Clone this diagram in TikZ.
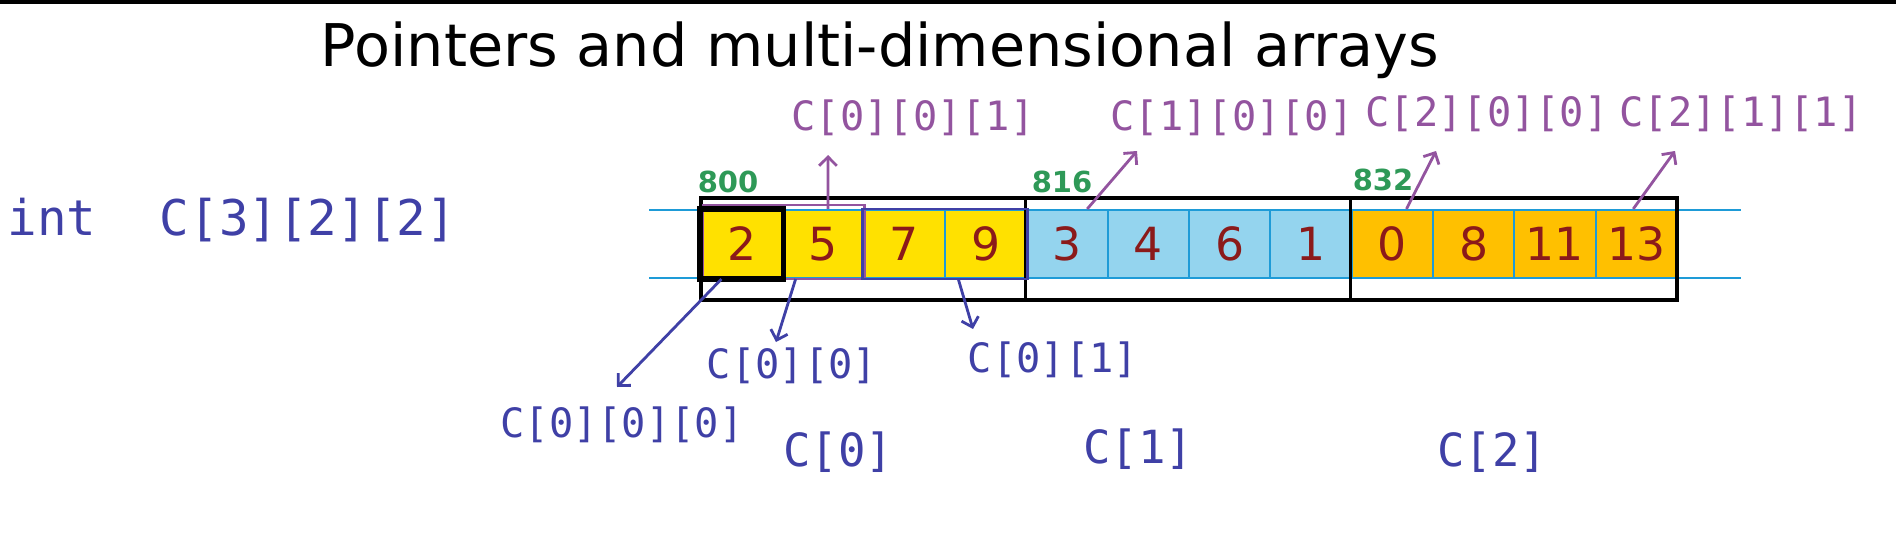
\documentclass[tikz,border=0pt]{standalone}
\usepackage{fontspec}
\setmainfont{DejaVu Sans}
\setmonofont{DejaVu Sans Mono}
\usetikzlibrary{arrows.meta}

\definecolor{cyel}{HTML}{FFE100}
\definecolor{cblu}{HTML}{94D4EE}
\definecolor{corg}{HTML}{FFC000}
\definecolor{cline}{HTML}{1E9BD7}
\definecolor{numred}{HTML}{8B1A1A}
\definecolor{plum}{HTML}{93549F}
\definecolor{inky}{HTML}{3F40A6}
\definecolor{addrgreen}{HTML}{2E9957}

\tikzset{
  every path/.style={
    line width=1.2pt
  },
  cell/.style={
    draw=cline,
    line width=1.2pt,
    minimum width=1.6267cm,
    minimum height=1.36cm,
    inner sep=0pt,
    text=numred,
    font=\fontsize{26}{30}\selectfont
  },
  rim/.style={draw=black, line width=1.8pt},
  heading/.style={font=\fontsize{33.5}{40}\selectfont},
  upref/.style={text=plum, font=\ttfamily\fontsize{23}{27}\selectfont},
  downref/.style={text=inky, font=\ttfamily\fontsize{23}{27}\selectfont},
  blockref/.style={text=inky, font=\ttfamily\fontsize{26}{30}\selectfont},
  declref/.style={text=inky, font=\ttfamily\fontsize{28}{32}\selectfont},
  addr/.style={text=addrgreen, font=\bfseries\fontsize{16.5}{20}\selectfont},
  ptrup/.style={plum, line width=1.6pt, -{Straight Barb[length=5pt,width=10pt]}},
  ptrdown/.style={inky, line width=1.6pt, -{Straight Barb[length=5pt,width=10pt]}}
}

\begin{document}
\begin{tikzpicture}[x=0.02cm, y=-0.02cm]
\useasboundingbox (0,0) rectangle (1896,534);
\fill[black] (0,0) rectangle (1896,4);

\node[heading, anchor=base] (title) at (880,66) {Pointers and multi-dimensional arrays};

\node[declref, anchor=base] (kw) at (52,235) {int};
\node[declref, anchor=base] (decl) at (308,235) {C[3][2][2]};

% memory row
\draw[cline] (649,210) -- (1741,210);
\draw[cline] (649,278) -- (1741,278);
\foreach \v/\col [count=\i from 0] in {2/cyel,5/cyel,7/cyel,9/cyel,
    3/cblu,4/cblu,6/cblu,1/cblu,0/corg,8/corg,11/corg,13/corg} {
\node[cell, fill=\col] (c\i) at ({741.67+81.33*\i},244) {\v};
}
\coordinate (rimtop) at (701,198);
\coordinate (rimbot) at (1677,300);
\draw[rim] (rimtop) rectangle (rimbot);
\foreach \k in {4,8} {
\draw[rim] (c\k.west |- rimtop) -- (c\k.west |- rimbot);
}
\draw[plum, line width=1.6pt] (703,205) rectangle (c1.south east);
\draw[inky, line width=1.6pt] (c2.north west) rectangle (c3.south east);
\draw[black, line width=3pt] (c0.north west) rectangle (c0.south east);

\node[addr] (a800) at (728,182) {800};
\node[addr] (a816) at (1062,182) {816};
\node[addr] (a832) at (1383,180) {832};

% element pointers
\node[upref] (l001) at (913,118) {C[0][0][1]};
\node[upref] (l100) at (1232,118) {C[1][0][0]};
\node[upref] (l200) at (1487,114) {C[2][0][0]};
\node[upref] (l211) at (1741,114) {C[2][1][1]};
\coordinate (t001) at (828,155);
\coordinate (t100) at (1137,151);
\coordinate (t200) at (1436,151);
\coordinate (t211) at (1675,151);
\draw[ptrup] (c1.82) -- (t001);
\draw[ptrup] (c4.60) -- (t100);
\draw[ptrup] (c8.68) -- (t200);
\draw[ptrup] (c11.95) -- (t211);

% row and block names
\node[downref] (l000) at (622,425) {C[0][0][0]};
\node[downref] (l00) at (792,366) {C[0][0]};
\node[downref] (l01) at (1053,360) {C[0][1]};
\coordinate (b000) at (617,387);
\coordinate (b00) at (776,342);
\coordinate (b01) at (973,329);
\draw[ptrdown] (c0.-120) -- (b000);
\draw[ptrdown] (c1.-128) -- (b00);
\draw[ptrdown] (c3.-128) -- (b01);
\node[blockref] (l0) at (838,452) {C[0]};
\node[blockref] (l1) at (1138,449) {C[1]};
\node[blockref] (l2) at (1492,452) {C[2]};
\end{tikzpicture}
\end{document}
